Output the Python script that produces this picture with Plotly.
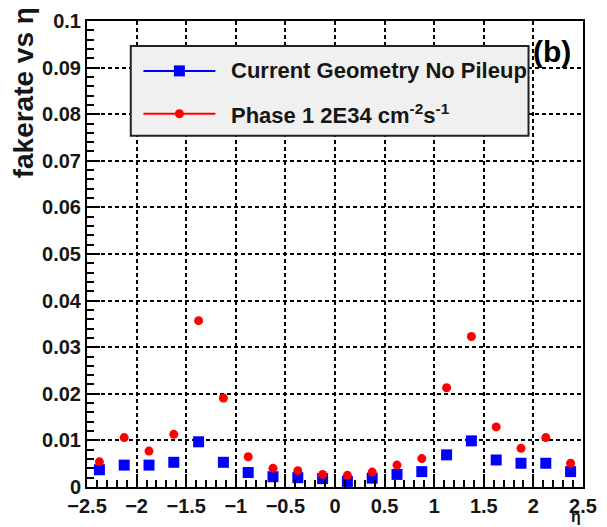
import plotly.graph_objects as go

# eta bin centres (20 bins of width 0.25 over -2.5..2.5)
eta = [-2.375, -2.125, -1.875, -1.625, -1.375, -1.125, -0.875, -0.625, -0.375, -0.125,
       0.125, 0.375, 0.625, 0.875, 1.125, 1.375, 1.625, 1.875, 2.125, 2.375]

# fake rate per eta bin
current_geometry = [0.0037, 0.0047, 0.0047, 0.0053, 0.0097, 0.0053, 0.0031, 0.0022, 0.0020, 0.0018,
                    0.0012, 0.0019, 0.0027, 0.0033, 0.0069, 0.0099, 0.0058, 0.0051, 0.0051, 0.0033]
phase1_2e34 = [0.0054, 0.0106, 0.0077, 0.0113, 0.0357, 0.0191, 0.0065, 0.0040, 0.0035, 0.0027,
               0.0025, 0.0032, 0.0047, 0.0061, 0.0213, 0.0323, 0.0129, 0.0083, 0.0106, 0.0051]

legend_labels = ["Current Geometry No Pileup", "Phase 1 2E34 cm<sup>-2</sup>s<sup>-1</sup>"]
y_title = "fakerate vs η"
x_title = "η"
panel_tag = "(b)"

W, H = 607, 527
L, R, T, B = 87, 10, 20, 40
PW, PH = W - L - R, H - T - B


def px(xp):
    return (xp - L) / PW


def py(yp):
    return (H - B - yp) / PH


FONT = "Liberation Sans, Arial, sans-serif"
INK = "#161616"

fig = go.Figure()
fig.add_trace(go.Scatter(x=eta, y=current_geometry, mode="markers",
                         marker=dict(symbol="square", size=11, color="#0000ff"),
                         showlegend=False))
fig.add_trace(go.Scatter(x=eta, y=phase1_2e34, mode="markers",
                         marker=dict(symbol="circle", size=9, color="#ff0000"),
                         showlegend=False))

axis_common = dict(
    showline=True, linecolor="black", linewidth=2, mirror=True,
    ticks="inside", ticklen=13, tickwidth=2, tickcolor="black",
    showgrid=True, gridcolor="black", gridwidth=1.5, griddash="4px,3px",
    zeroline=False,
    tickfont=dict(family=FONT, size=20, color=INK, weight="bold"),
)

fig.update_xaxes(range=[-2.5, 2.5], dtick=0.5, tick0=-2.5, ticklabeloverflow="allow",
                 ticklabelstandoff=0,
                 minor=dict(ticks="inside", ticklen=7, tickwidth=2, tickcolor="black",
                            dtick=0.1, showgrid=False),
                 **axis_common)
fig.update_yaxes(range=[0, 0.1], dtick=0.01, tick0=0,
                 minor=dict(ticks="inside", ticklen=7, tickwidth=2, tickcolor="black",
                            dtick=0.002, showgrid=False),
                 **axis_common)

shapes = []
annotations = []

# "(b)" tag sits under the legend box edge
annotations.append(dict(text="<b>" + panel_tag + "</b>", xref="paper", yref="paper",
                        x=px(565), y=py(51), xanchor="center", yanchor="middle",
                        showarrow=False, font=dict(family=FONT, size=30, color="black")))

# legend box
shapes.append(dict(type="rect", xref="paper", yref="paper",
                   x0=px(132), x1=px(541), y0=py(135), y1=py(45),
                   fillcolor="#f0f0f0", line=dict(color="#222222", width=2), layer="above"))

legend_rows = [(70, "#0000ff", "square", 11), (113, "#ff0000", "circle", 9)]
for (yrow, col, sym, size), label in zip(legend_rows, legend_labels):
    shapes.append(dict(type="line", xref="paper", yref="paper",
                       x0=px(145), x1=px(219), y0=py(yrow), y1=py(yrow),
                       line=dict(color=col, width=2), layer="above"))
    shapes.append(dict(type="rect" if sym == "square" else "circle",
                       xref="paper", yref="paper",
                       xsizemode="pixel", ysizemode="pixel",
                       xanchor=px(182), yanchor=py(yrow),
                       x0=-size / 2, x1=size / 2, y0=-size / 2, y1=size / 2,
                       fillcolor=col, line=dict(width=0), layer="above"))
    annotations.append(dict(text=label, xref="paper", yref="paper",
                            x=px(233), y=py(yrow), xanchor="left", yanchor="middle",
                            showarrow=False,
                            font=dict(family=FONT, size=22, color=INK, weight="bold")))

annotations.append(dict(text=y_title, xref="paper", yref="paper",
                        x=px(22), y=py(4), xanchor="center", yanchor="top",
                        textangle=-90, showarrow=False,
                        font=dict(family=FONT, size=28, color=INK, weight="bold")))
annotations.append(dict(text=x_title, xref="paper", yref="paper",
                        x=px(590), y=py(527), xanchor="center", yanchor="bottom",
                        showarrow=False,
                        font=dict(family=FONT, size=16, color=INK, weight="bold")))

fig.update_layout(
    width=W, height=H,
    margin=dict(l=L, r=R, t=T, b=B),
    paper_bgcolor="white", plot_bgcolor="white",
    showlegend=False,
    shapes=shapes, annotations=annotations,
)

fig.write_html("out.html")
